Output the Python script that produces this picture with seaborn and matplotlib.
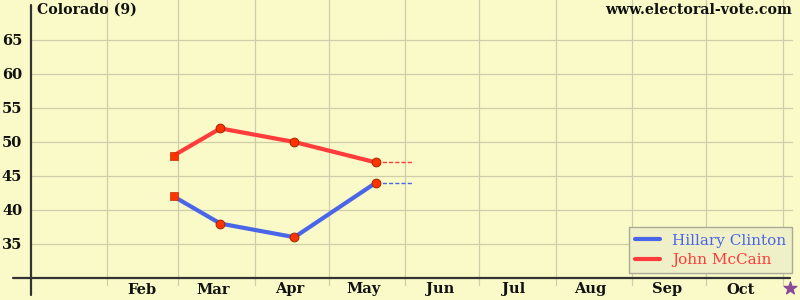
import numpy as np
import pandas as pd
import seaborn as sns
import matplotlib.pyplot as plt
from matplotlib.lines import Line2D

# ---- data ----
poll_dates = ["2008-02-28", "2008-03-18", "2008-04-17", "2008-05-20"]
clinton = [42, 38, 36, 44]
mccain = [48, 52, 50, 47]
projection_end = "2008-06-04"
election_day = "2008-11-04"
month_labels = ["Feb", "Mar", "Apr", "May", "Jun", "Jul", "Aug", "Sep", "Oct"]
y_ticks = [35, 40, 45, 50, 55, 60, 65]
title = "Colorado (9)"
site = "www.electoral-vote.com"

BG = "#fafac8"
BLUE = "#4a66e8"
RED = "#ff3b3b"
MARK = "#ff3300"
GRID = "#cdcdaa"
FONT = "DejaVu Serif"

sns.set_theme(style="white")
plt.rcParams["font.family"] = [FONT]

df = pd.DataFrame({
    "date": pd.to_datetime(poll_dates * 2),
    "pct": clinton + mccain,
    "cand": ["Hillary Clinton"] * len(clinton) + ["John McCain"] * len(mccain),
})

fig = plt.figure(figsize=(8, 3), dpi=100, facecolor=BG)
ax = fig.add_axes([30.5 / 800, 0, 1 - 30.5 / 800, 1])
ax.set_facecolor(BG)

x0 = pd.Timestamp("2008-01-01")
x1 = x0 + pd.Timedelta(days=312)
ax.set_xlim(x0, x1)
ax.set_ylim(30 - 22 / 6.8, 30 + 278 / 6.8)

# grid
for m in range(2, 12):
    ax.axvline(pd.Timestamp(f"2008-{m:02d}-01"), color=GRID, lw=0.9, ymin=0.05, ymax=1, zorder=0)
for yv in y_ticks:
    ax.axhline(yv, color=GRID, lw=0.9, xmin=0, xmax=0.99, zorder=0)

# lines
sns.lineplot(data=df, x="date", y="pct", hue="cand",
             palette={"Hillary Clinton": BLUE, "John McCain": RED},
             lw=3, ax=ax, zorder=3, legend=False)

# projections
last = pd.Timestamp(poll_dates[-1])
pe = pd.Timestamp(projection_end)
ax.plot([last, pe], [clinton[-1], clinton[-1]], ls=(0, (3, 1.5)), color=BLUE, lw=1, zorder=2)
ax.plot([last, pe], [mccain[-1], mccain[-1]], ls=(0, (3, 1.5)), color=RED, lw=1, zorder=2)

# markers
first = df.groupby("cand").head(1)
rest = df.drop(first.index)
sns.scatterplot(data=first, x="date", y="pct", marker="s", s=30, color=MARK,
                edgecolor="#c03000", linewidth=0.5, ax=ax, zorder=4, legend=False)
sns.scatterplot(data=rest, x="date", y="pct", marker="o", s=40, color=MARK,
                edgecolor="#a02800", linewidth=0.7, ax=ax, zorder=4, legend=False)

# axes lines
for s in ax.spines.values():
    s.set_visible(False)
ax.axvline(x0, ymin=5 / 300, ymax=295 / 300, color="#333333", lw=1.6, clip_on=False, zorder=5)
ax.plot([x0 - pd.Timedelta(days=7), x1 - pd.Timedelta(days=4)], [30, 30],
        color="#333333", lw=1.6, clip_on=False, zorder=5)

# ticks
ax.set_yticks(y_ticks)
ax.set_yticklabels([str(v) for v in y_ticks], fontsize=10.5, fontweight="bold", color="#111111")
ax.tick_params(axis="y", length=0, pad=6)
mid = [pd.Timestamp(f"2008-{m:02d}-15") for m in range(2, 11)]
ax.set_xticks(mid)
ax.set_xticklabels(month_labels, fontsize=10.5, fontweight="bold", color="#111111")
ax.tick_params(axis="x", length=0, pad=0)
for lab in ax.get_xticklabels():
    lab.set_y(0.035)
    lab.set_va("center")
ax.set_xlabel("")
ax.set_ylabel("")

# star
ax.scatter([pd.Timestamp(election_day)], [30 - 10 / 6.8], marker="*", s=90, color="#8a4a9a",
           clip_on=False, zorder=6)

# titles
fig.text(37 / 800, 1 - 10 / 300, title, fontsize=10.2, fontweight="bold", va="center", ha="left", color="#111111")
fig.text(792 / 800, 1 - 10 / 300, site, fontsize=10.2, fontweight="bold", va="center", ha="right", color="#111111")

# legend
handles = [Line2D([], [], color=BLUE, lw=3), Line2D([], [], color=RED, lw=3)]
leg = ax.legend(handles, ["Hillary Clinton", "John McCain"], loc="lower right",
                bbox_to_anchor=(792 / 800, 27 / 300), bbox_transform=fig.transFigure,
                borderaxespad=0, frameon=True, fancybox=False, fontsize=11, handlelength=1.6,
                borderpad=0.4, labelspacing=0.35, handletextpad=0.8)
leg.get_frame().set_facecolor("#f0f0c8")
leg.get_frame().set_edgecolor("#aaaa99")
leg.get_frame().set_alpha(1)
for t, c in zip(leg.get_texts(), [BLUE, RED]):
    t.set_color(c)

fig.savefig("out.png", dpi=100, facecolor=BG)
